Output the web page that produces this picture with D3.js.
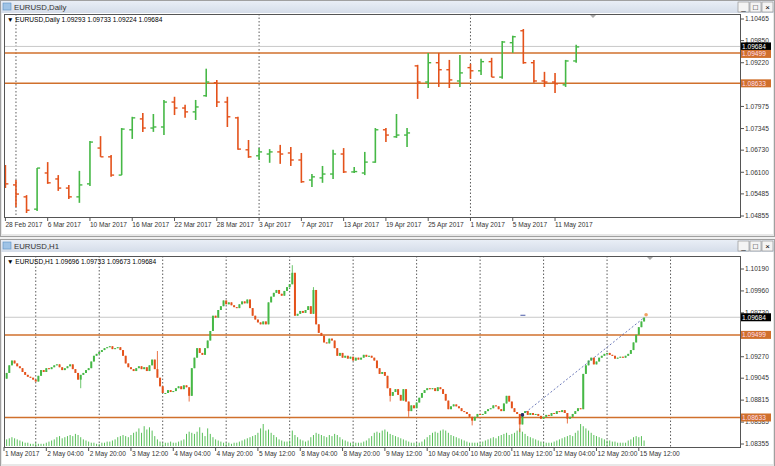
<!DOCTYPE html>
<html><head><meta charset="utf-8">
<script src="https://cdn.jsdelivr.net/npm/d3@7"></script>
<style>body{margin:0;background:#f0f0f0}svg{display:block;font-family:"Liberation Sans",Arial,sans-serif}</style>
</head><body><svg id="c" width="775" height="466"></svg>
<script>
// ---------- DAILY DATA ----------
const dDates=["28 Feb","1 Mar","2 Mar","3 Mar","6 Mar","7 Mar","8 Mar","9 Mar","10 Mar","13 Mar","14 Mar","15 Mar","16 Mar","17 Mar","20 Mar","21 Mar","22 Mar","23 Mar","24 Mar","27 Mar","28 Mar","29 Mar","30 Mar","31 Mar","3 Apr","4 Apr","5 Apr","6 Apr","7 Apr","10 Apr","11 Apr","12 Apr","13 Apr","14 Apr","17 Apr","18 Apr","19 Apr","20 Apr","21 Apr","24 Apr","25 Apr","26 Apr","27 Apr","28 Apr","1 May","2 May","3 May","4 May","5 May","8 May","9 May","10 May","11 May","12 May","15 May"];
const dOpen=[1.0617,1.0574,1.0540,1.0505,1.0608,1.0591,1.0565,1.0540,1.0577,1.0679,1.0654,1.0602,1.0731,1.0762,1.0736,1.0739,1.0810,1.0793,1.0782,1.0828,1.0865,1.0810,1.0765,1.0674,1.0657,1.0662,1.0668,1.0665,1.0645,1.0588,1.0594,1.0605,1.0662,1.0611,1.0608,1.0639,1.0731,1.0711,1.0716,1.0913,1.0867,1.0922,1.0902,1.0870,1.0908,1.0899,1.0925,1.0881,1.0979,1.1013,1.0922,1.0870,1.0867,1.0859,1.0927];
const dHigh=[1.0631,1.0588,1.0545,1.0622,1.0639,1.0602,1.0574,1.0614,1.0699,1.0713,1.0659,1.0736,1.0768,1.0779,1.0776,1.0816,1.0825,1.0802,1.0816,1.0905,1.0873,1.0825,1.0768,1.0702,1.0679,1.0676,1.0688,1.0682,1.0665,1.0605,1.0628,1.0674,1.0679,1.0625,1.0668,1.0736,1.0736,1.0776,1.0736,1.0916,1.0950,1.0950,1.0930,1.0944,1.0919,1.0933,1.0936,1.0984,1.0999,1.1018,1.0930,1.0896,1.0893,1.0930,1.0973];
const dLow=[1.0565,1.0511,1.0494,1.0500,1.0577,1.0557,1.0534,1.0523,1.0571,1.0654,1.0597,1.0602,1.0705,1.0725,1.0725,1.0716,1.0773,1.0765,1.0759,1.0825,1.0796,1.0739,1.0674,1.0651,1.0645,1.0637,1.0634,1.0628,1.0580,1.0568,1.0580,1.0591,1.0608,1.0608,1.0602,1.0637,1.0696,1.0708,1.0682,1.0819,1.0850,1.0853,1.0850,1.0853,1.0876,1.0887,1.0881,1.0876,1.0950,1.0919,1.0865,1.0853,1.0836,1.0853,1.0922];
const dClose=[1.0577,1.0548,1.0502,1.0622,1.0580,1.0565,1.0540,1.0574,1.0696,1.0654,1.0602,1.0733,1.0765,1.0736,1.0739,1.0810,1.0793,1.0782,1.0796,1.0867,1.0810,1.0768,1.0676,1.0654,1.0668,1.0668,1.0662,1.0645,1.0583,1.0597,1.0605,1.0662,1.0611,1.0612,1.0639,1.0731,1.0716,1.0716,1.0722,1.0867,1.0922,1.0902,1.0873,1.0893,1.0899,1.0925,1.0881,1.0981,1.0996,1.0922,1.0870,1.0867,1.0862,1.0927,1.0967];
const dLabels=[["28 Feb","28 Feb 2017"],["6 Mar","6 Mar 2017"],["10 Mar","10 Mar 2017"],["16 Mar","16 Mar 2017"],["22 Mar","22 Mar 2017"],["28 Mar","28 Mar 2017"],["3 Apr","3 Apr 2017"],["7 Apr","7 Apr 2017"],["13 Apr","13 Apr 2017"],["19 Apr","19 Apr 2017"],["25 Apr","25 Apr 2017"],["1 May","1 May 2017"],["5 May","5 May 2017"],["11 May","11 May 2017"]];
const dMonthStarts=["1 Mar","3 Apr","1 May"];
const dTicks=[1.10465,1.09850,1.09220,1.07975,1.07345,1.06730,1.06100,1.05485,1.04855];
const levels=[1.09499,1.08633];
const lastPrice=1.09684;

// ---------- H1 DATA (bar 0 = 1 May 12:00) ----------
const hClose=[1.0904,1.0910,1.0918,1.0923,1.0920,1.0917,1.0915,1.0911,1.0908,1.0906,
1.0905,1.0903,1.0901,1.0907,1.0913,1.0911,1.0915,1.0914,1.0916,1.0918,
1.0919,1.0916,1.0913,1.0915,1.0917,1.0919,1.0914,1.0910,1.0903,1.0908,
1.0910,1.0913,1.0915,1.0922,1.0928,1.0930,1.0932,1.0934,1.0936,1.0937,
1.0938,1.0935,1.0936,1.0937,1.0934,1.0928,1.0920,1.0916,1.0914,1.0912,
1.0915,1.0917,1.0914,1.0916,1.0912,1.0918,1.0924,1.0914,1.0905,1.0896,
1.0889,1.0889,1.0892,1.0890,1.0891,1.0894,1.0896,1.0893,1.0897,1.0895,
1.0886,1.0915,1.0926,1.0936,1.0931,1.0929,1.0936,1.0944,1.0954,1.0970,
1.0968,1.0976,1.0980,1.0986,1.0982,1.0984,1.0981,1.0979,1.0978,1.0982,
1.0985,1.0983,1.0987,1.0978,1.0970,1.0966,1.0963,1.0961,1.0964,1.0961,
1.0984,1.0990,1.0994,1.0997,1.0993,1.0991,1.0996,1.1000,1.1003,1.1015,
1.0970,1.0972,1.0975,1.0973,1.0976,1.0980,1.0972,1.0997,1.0961,1.0952,
1.0949,1.0942,1.0941,1.0946,1.0944,1.0936,1.0928,1.0931,1.0926,1.0928,
1.0925,1.0927,1.0923,1.0926,1.0924,1.0926,1.0929,1.0927,1.0928,1.0926,
1.0923,1.0915,1.0909,1.0911,1.0907,1.0894,1.0886,1.0890,1.0893,1.0887,
1.0881,1.0893,1.0880,1.0870,1.0876,1.0873,1.0879,1.0884,1.0889,1.0892,
1.0894,1.0893,1.0894,1.0891,1.0895,1.0893,1.0888,1.0881,1.0872,1.0875,
1.0877,1.0875,1.0873,1.0870,1.0869,1.0867,1.0864,1.0860,1.0864,1.0867,
1.0866,1.0867,1.0870,1.0872,1.0873,1.0876,1.0875,1.0872,1.0870,1.0878,
1.0886,1.0880,1.0873,1.0869,1.0867,1.0856,1.0868,1.0870,1.0866,1.0868,
1.0866,1.0867,1.0865,1.0862,1.0864,1.0866,1.0865,1.0868,1.0867,1.0870,
1.0869,1.0871,1.0868,1.0862,1.0864,1.0867,1.0870,1.0873,1.0872,1.0909,
1.0918,1.0923,1.0926,1.0919,1.0922,1.0926,1.0928,1.0930,1.0931,1.0929,
1.0928,1.0925,1.0926,1.0927,1.0926,1.0928,1.0930,1.0934,1.0942,1.0950,
1.0958,1.0964,1.0968];
const hFirstOpen=1.0899;
const hSpikes=[[29,1.0894,null],[58,null,1.0933],[70,1.0880,null],[109,null,1.1023],[117,null,1.1000],[146,1.0880,null],[153,1.0864,null],[177,1.0855,null],[195,1.0848,null],[213,1.0857,null]];
const hVol=[5,6,7,8,7,6,5,4,3,3, 2,2,3,2,2,2,3,4,5,6, 8,9,7,8,9,10,9,11,10,8, 6,5,4,3,3,2,2,3,3,4,
4,5,6,8,9,10,9,8,10,12, 13,16,12,18,15,17,14,9,6,4, 3,3,3,4,3,3,4,5,6,11, 13,12,11,13,17,12,9,16,11,8,
6,5,4,3,3,3,2,3,3,4, 5,6,7,8,9,10,12,16,20,14, 15,12,10,8,6,5,4,4,5,14, 10,8,6,5,4,5,8,10,12,11,
10,9,8,10,9,11,10,8,6,5, 4,3,3,3,3,3,4,5,7,9, 12,13,12,14,15,13,11,10,9,8, 7,6,5,4,3,3,3,3,4,6,
8,10,12,13,12,14,15,14,12,10, 9,8,7,6,5,4,3,3,3,3, 3,4,5,6,7,8,7,9,10,11, 12,10,11,12,14,16,13,11,9,8,
7,6,5,4,3,3,3,3,4,5, 6,7,8,9,10,9,12,14,20,18, 16,14,12,10,9,8,7,6,5,5, 4,4,3,3,3,3,5,6,8,9, 8,9,5];
const hLabels=[[0,"1 May 2017"],[16,"2 May 04:00"],[32,"2 May 20:00"],[48,"3 May 12:00"],[64,"4 May 04:00"],[80,"4 May 20:00"],[96,"5 May 12:00"],[112,"8 May 04:00"],[128,"8 May 20:00"],[144,"9 May 12:00"],[160,"10 May 04:00"],[176,"10 May 20:00"],[192,"11 May 12:00"],[208,"12 May 04:00"],[224,"12 May 20:00"],[240,"15 May 12:00"]];
const hDayStarts=[12,36,60,84,108,132,156,180,204,228,252];
const hTicks=[1.10190,1.09960,1.09730,1.09270,1.09045,1.08815,1.08585,1.08355];
const hTrend=[[196,1.0866],[242,1.0968]];

const GREEN="#46b846",RED="#e4521b",ORANGE="#d0702c",FS=6.6;
const svg=d3.select("#c");

function windowFrame(y0,h,title){
  const g=svg.append("g");
  g.append("rect").attr("x",0.5).attr("y",y0+0.5).attr("width",774).attr("height",h).attr("fill","#e8e8e8").attr("stroke","#a0a0a0");
  const grad=svg.append("defs").append("linearGradient").attr("id","tg"+y0).attr("x1",0).attr("x2",0).attr("y1",0).attr("y2",1);
  grad.append("stop").attr("offset",0).attr("stop-color","#e9eef6");grad.append("stop").attr("offset",1).attr("stop-color","#d5dde9");
  g.append("rect").attr("x",1).attr("y",y0+1).attr("width",773).attr("height",12).attr("fill",`url(#tg${y0})`);
  g.append("rect").attr("x",3).attr("y",y0+3).attr("width",8).attr("height",7).attr("fill","#9fc3e6").attr("stroke","#5d8fc2").attr("stroke-width",0.6);
  g.append("text").attr("x",14).attr("y",y0+10).attr("font-size",7.8).attr("fill","#333").text(title);
  [[738,"_"],[750,"□"],[762,"×"]].forEach(([x,t])=>{
    g.append("rect").attr("x",x).attr("y",y0+2).attr("width",11).attr("height",10).attr("fill","#f4f4f4").attr("stroke","#888").attr("stroke-width",0.6);
    g.append("text").attr("x",x+5.5).attr("y",y0+10).attr("text-anchor","middle").attr("font-size",8).attr("fill","#000").text(t);
  });
  g.append("rect").attr("x",2).attr("y",y0+13).attr("width",771).attr("height",h-15).attr("fill","#fff");
}

function priceBox(y,val,bg,fg){
  svg.append("rect").attr("x",741).attr("y",y-4).attr("width",30).attr("height",8).attr("fill",bg);
  svg.append("text").attr("x",742).attr("y",y+2.5).attr("font-size",FS).attr("fill",fg).text(val.toFixed(5));
}

function panelCommon(top,bot,y,ticks,hdr){
  svg.append("rect").attr("x",4.5).attr("y",top+0.5).attr("width",736).attr("height",bot-top).attr("fill","none").attr("stroke","#555");
  ticks.forEach(t=>{
    svg.append("line").attr("x1",741).attr("x2",744).attr("y1",y(t)).attr("y2",y(t)).attr("stroke","#555");
    svg.append("text").attr("x",745).attr("y",y(t)+2.3).attr("font-size",FS).attr("fill","#333").text(t.toFixed(5));
  });
  svg.append("text").attr("x",7).attr("y",top+8).attr("font-size",FS).attr("fill","#000").text(hdr);
}

// ---------- TOP PANEL ----------
windowFrame(0,236,"EURUSD,Daily");
const xd=d3.scalePoint().domain(dDates).range([5.4,5.4+54*10.57]);
const yd=d3.scaleLinear().domain([1.04855,1.10465]).range([216,19]);
const gT=svg.append("g").attr("clip-path","url(#clipT)");
svg.append("clipPath").attr("id","clipT").append("rect").attr("x",5).attr("y",14).attr("width",735).attr("height",203);
dMonthStarts.forEach(d=>gT.append("line").attr("x1",xd(d)).attr("x2",xd(d)).attr("y1",14).attr("y2",217).attr("stroke","#333").attr("stroke-dasharray","1.5,2").attr("stroke-width",0.8));
gT.append("line").attr("x1",5).attr("x2",740).attr("y1",yd(lastPrice)).attr("y2",yd(lastPrice)).attr("stroke","#c8c8c8");
levels.forEach(l=>gT.append("line").attr("x1",5).attr("x2",740).attr("y1",yd(l)).attr("y2",yd(l)).attr("stroke",ORANGE).attr("stroke-width",1.5));
dDates.forEach((d,i)=>{
  const c=dClose[i]>=dOpen[i]?GREEN:RED,x=xd(d);
  gT.append("line").attr("x1",x).attr("x2",x).attr("y1",yd(dHigh[i])).attr("y2",yd(dLow[i])).attr("stroke",c).attr("stroke-width",1.6);
  gT.append("line").attr("x1",x-3).attr("x2",x).attr("y1",yd(dOpen[i])).attr("y2",yd(dOpen[i])).attr("stroke",c).attr("stroke-width",1.4);
  gT.append("line").attr("x1",x).attr("x2",x+3).attr("y1",yd(dClose[i])).attr("y2",yd(dClose[i])).attr("stroke",c).attr("stroke-width",1.4);
});
panelCommon(14,217,yd,dTicks,"▼ EURUSD,Daily  1.09293 1.09733 1.09224 1.09684");
dLabels.forEach(([d,t])=>{
  svg.append("line").attr("x1",xd(d)).attr("x2",xd(d)).attr("y1",217).attr("y2",221).attr("stroke","#555");
  svg.append("text").attr("x",xd(d)).attr("y",227).attr("font-size",FS).attr("fill","#333").text(t);
});
priceBox(yd(lastPrice),lastPrice,"#000","#fff");
priceBox(yd(levels[0])+1,levels[0],ORANGE,"#fde");
priceBox(yd(levels[1]),levels[1],ORANGE,"#fde");
svg.append("path").attr("d","M590,15 l6,0 l-3,3 z").attr("fill","#aaa");

// ---------- BOTTOM PANEL ----------
windowFrame(239,227,"EURUSD,H1");
const xh=d3.scaleLinear().domain([0,242]).range([4,4+242*2.645]);
const yh=d3.scaleLinear().domain([1.08355,1.10190]).range([444,269]);
const yv=d3.scaleLinear().domain([0,20]).range([446,424]);
svg.append("clipPath").attr("id","clipB").append("rect").attr("x",5).attr("y",256).attr("width",735).attr("height",191);
const gB=svg.append("g").attr("clip-path","url(#clipB)");
hDayStarts.forEach(i=>gB.append("line").attr("x1",xh(i)).attr("x2",xh(i)).attr("y1",256).attr("y2",447).attr("stroke","#333").attr("stroke-dasharray","1.5,2").attr("stroke-width",0.8));
gB.append("line").attr("x1",5).attr("x2",740).attr("y1",yh(lastPrice)).attr("y2",yh(lastPrice)).attr("stroke","#c8c8c8");
levels.forEach(l=>gB.append("line").attr("x1",5).attr("x2",740).attr("y1",yh(l)).attr("y2",yh(l)).attr("stroke",ORANGE).attr("stroke-width",1.5));
hVol.forEach((v,i)=>gB.append("line").attr("x1",xh(i)).attr("x2",xh(i)).attr("y1",yv(0)).attr("y2",yv(v)).attr("stroke",GREEN).attr("stroke-width",0.9));
const spikeMap=new Map(hSpikes.map(s=>[s[0],s]));
hClose.forEach((c,i)=>{
  const o=i?hClose[i-1]:hFirstOpen,col=c>=o?GREEN:RED,x=xh(i);
  const s=spikeMap.get(i);
  let hi=Math.max(o,c),lo=Math.min(o,c);
  if(s){if(s[1]!=null)lo=Math.min(lo,s[1]);if(s[2]!=null)hi=Math.max(hi,s[2]);}
  gB.append("line").attr("x1",x).attr("x2",x).attr("y1",yh(hi)).attr("y2",yh(lo)).attr("stroke",col).attr("stroke-width",0.8);
  const y1=yh(Math.max(o,c)),y2=yh(Math.min(o,c));
  gB.append("rect").attr("x",x-1).attr("y",y1).attr("width",2).attr("height",Math.max(1,y2-y1)).attr("fill",col);
});
gB.append("line").attr("x1",xh(hTrend[0][0])).attr("y1",yh(hTrend[0][1])).attr("x2",xh(hTrend[1][0])).attr("y2",yh(hTrend[1][1])).attr("stroke","#4a5aa8").attr("stroke-dasharray","2,2").attr("stroke-width",0.8);
gB.append("circle").attr("cx",xh(hTrend[0][0])).attr("cy",yh(hTrend[0][1])).attr("r",1.8).attr("fill","#2a2a6a");
gB.append("line").attr("x1",xh(196)-2).attr("x2",xh(196)+3).attr("y1",yh(lastPrice)-2).attr("y2",yh(lastPrice)-2).attr("stroke","#4a5aa8");
gB.append("circle").attr("cx",xh(242)+2).attr("cy",yh(1.0971)).attr("r",1.8).attr("fill","#f0a060");
panelCommon(256,447,yh,hTicks,"▼ EURUSD,H1  1.09696 1.09733 1.09673 1.09684");
hLabels.forEach(([i,t])=>{
  svg.append("line").attr("x1",xh(i)).attr("x2",xh(i)).attr("y1",447).attr("y2",451).attr("stroke","#555");
  svg.append("text").attr("x",xh(i)+1).attr("y",456).attr("font-size",FS).attr("fill","#333").text(t);
});
priceBox(yh(lastPrice),lastPrice,"#000","#fff");
priceBox(yh(levels[0]),levels[0],ORANGE,"#fde");
priceBox(yh(levels[1]),levels[1],ORANGE,"#fde");
svg.append("path").attr("d","M647,257 l6,0 l-3,3 z").attr("fill","#aaa");
</script></body></html>
